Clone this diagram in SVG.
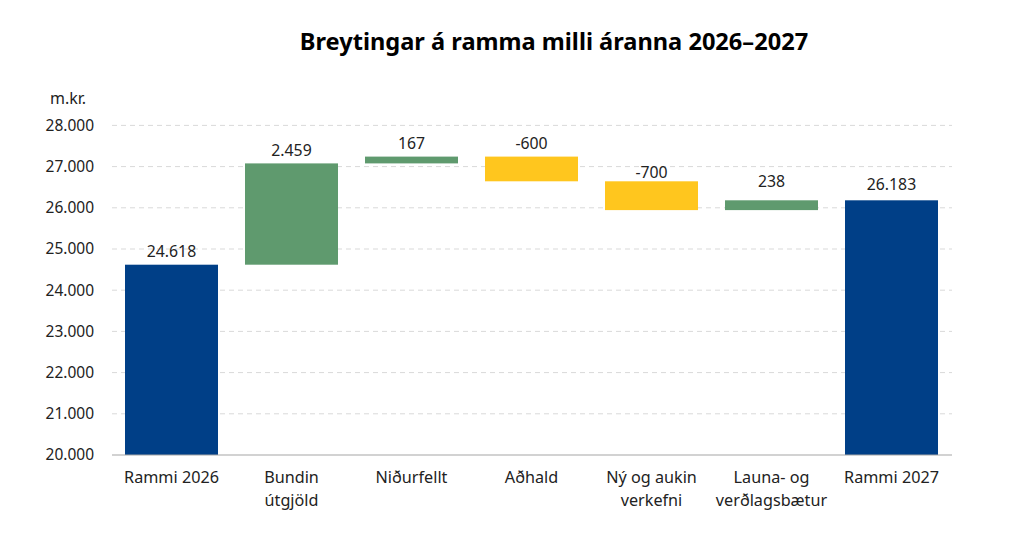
<svg xmlns="http://www.w3.org/2000/svg" width="1024" height="545" viewBox="0 0 1024 545">
<style>
text{font-family:"Noto Sans","Open Sans","Liberation Sans",sans-serif;fill:#222}
.title{font-size:23.6px;font-weight:bold;fill:#000}
.ax{font-size:15.5px;text-anchor:end}
.val{font-size:15.8px;text-anchor:middle}
.cat{font-size:16.2px;text-anchor:middle}
.grid{stroke:#d9d9d9;stroke-width:1;stroke-dasharray:5,4}
.navy{fill:#003F87}
.green{fill:#5F9A6E}
.yellow{fill:#FFC61E}
</style>
<rect width="1024" height="545" fill="#fff"/>
<text class="title" x="554" y="50" text-anchor="middle">Breytingar á ramma milli áranna 2026–2027</text>
<g id="axis">
<text x="68" y="104" font-size="16" text-anchor="middle">m.kr.</text>
<line class="grid" x1="112" y1="125.4" x2="952" y2="125.4"/>
<line class="grid" x1="112" y1="166.6" x2="952" y2="166.6"/>
<line class="grid" x1="112" y1="207.8" x2="952" y2="207.8"/>
<line class="grid" x1="112" y1="249" x2="952" y2="249"/>
<line class="grid" x1="112" y1="290.2" x2="952" y2="290.2"/>
<line class="grid" x1="112" y1="331.4" x2="952" y2="331.4"/>
<line class="grid" x1="112" y1="372.6" x2="952" y2="372.6"/>
<line class="grid" x1="112" y1="413.8" x2="952" y2="413.8"/>
<text class="ax" x="94" y="130.7">28.000</text>
<text class="ax" x="94" y="171.9">27.000</text>
<text class="ax" x="94" y="213.1">26.000</text>
<text class="ax" x="94" y="254.3">25.000</text>
<text class="ax" x="94" y="295.5">24.000</text>
<text class="ax" x="94" y="336.7">23.000</text>
<text class="ax" x="94" y="377.9">22.000</text>
<text class="ax" x="94" y="419.1">21.000</text>
<text class="ax" x="94" y="460.3">20.000</text>
</g>
<g id="bar-rammi2026">
<rect class="navy" x="125" y="264.7" width="93" height="190.3"/>
<text class="val" x="171.5" y="257">24.618</text>
<text class="cat" x="171.5" y="483">Rammi 2026</text>
</g>
<g id="bar-bundin">
<rect class="green" x="245" y="163.4" width="93" height="101.3"/>
<text class="val" x="291.5" y="156">2.459</text>
<text class="cat" x="291.5" y="483">Bundin</text>
<text class="cat" x="291.5" y="505.5">útgjöld</text>
</g>
<g id="bar-nidurfellt">
<rect class="green" x="365" y="156.6" width="93" height="6.8"/>
<text class="val" x="411.5" y="149">167</text>
<text class="cat" x="411.5" y="483">Niðurfellt</text>
</g>
<g id="bar-adhald">
<rect class="yellow" x="485" y="156.6" width="93" height="24.7"/>
<text class="val" x="531.5" y="149">-600</text>
<text class="cat" x="531.5" y="483">Aðhald</text>
</g>
<g id="bar-ny">
<rect class="yellow" x="605" y="181.3" width="93" height="28.8"/>
<text class="val" x="651.5" y="178">-700</text>
<text class="cat" x="651.5" y="483">Ný og aukin</text>
<text class="cat" x="651.5" y="505.5">verkefni</text>
</g>
<g id="bar-launa">
<rect class="green" x="725" y="200.3" width="93" height="9.8"/>
<text class="val" x="771.5" y="187">238</text>
<text class="cat" x="771.5" y="483">Launa- og</text>
<text class="cat" x="771.5" y="505.5">verðlagsbætur</text>
</g>
<g id="bar-rammi2027">
<rect class="navy" x="845" y="200.3" width="93" height="254.7"/>
<text class="val" x="891.5" y="190">26.183</text>
<text class="cat" x="891.5" y="483">Rammi 2027</text>
</g>
<g id="baseline">
<line x1="112" y1="455" x2="952" y2="455" stroke="#a6a6a6" stroke-width="1.2"/>
</g>
</svg>
